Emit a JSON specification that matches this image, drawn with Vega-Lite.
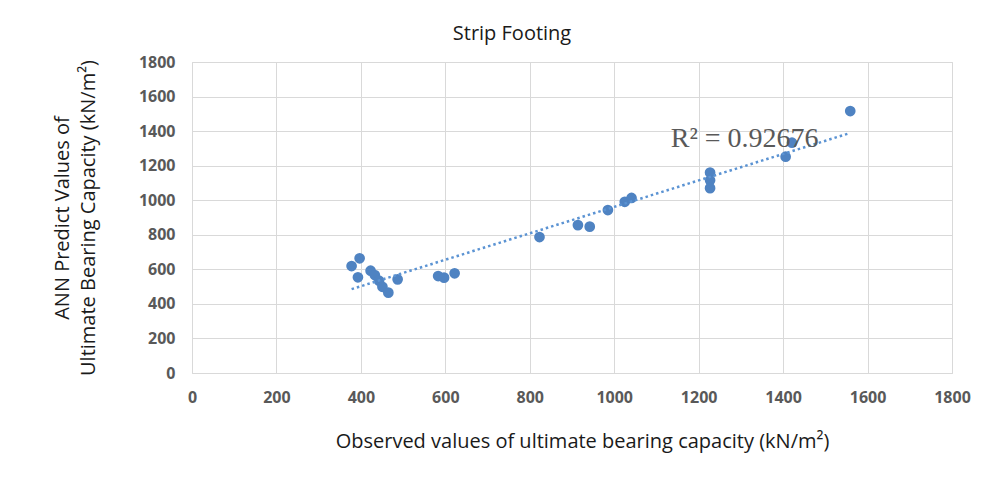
{
  "$schema": "https://vega.github.io/schema/vega-lite/v6.json",
  "autosize": {"type": "none"},
  "width": 760,
  "height": 311,
  "padding": {"left": 192, "top": 62, "right": 42, "bottom": 111},
  "background": "white",
  "title": {
    "text": "Strip Footing",
    "font": "Open Sans",
    "fontSize": 20,
    "fontWeight": "normal",
    "color": "#1a1a1a",
    "offset": 10,
    "dx": -60
  },
  "config": {
    "view": {"stroke": "#d9d9d9", "strokeWidth": 1},
    "axis": {
      "grid": true,
      "gridColor": "#d9d9d9",
      "gridWidth": 1,
      "ticks": false,
      "domain": false,
      "labelFont": "Open Sans",
      "labelFontSize": 16,
      "labelFontWeight": "bold",
      "labelColor": "#595959",
      "labelOverlap": false,
      "format": "d",
      "titleFont": "Open Sans",
      "titleFontSize": 20,
      "titleFontWeight": "normal",
      "titleColor": "#1a1a1a"
    }
  },
  "datasets": {
    "points": [
      {"observed": 378, "predicted": 619},
      {"observed": 397, "predicted": 664},
      {"observed": 393, "predicted": 554},
      {"observed": 423, "predicted": 592},
      {"observed": 433, "predicted": 567},
      {"observed": 443, "predicted": 534},
      {"observed": 451, "predicted": 499},
      {"observed": 465, "predicted": 465},
      {"observed": 487, "predicted": 542},
      {"observed": 583, "predicted": 561},
      {"observed": 597, "predicted": 552},
      {"observed": 622, "predicted": 577},
      {"observed": 823, "predicted": 787},
      {"observed": 914, "predicted": 856},
      {"observed": 942, "predicted": 847},
      {"observed": 985, "predicted": 943},
      {"observed": 1025, "predicted": 991},
      {"observed": 1041, "predicted": 1013},
      {"observed": 1227, "predicted": 1160},
      {"observed": 1227, "predicted": 1115},
      {"observed": 1227, "predicted": 1070},
      {"observed": 1406, "predicted": 1252},
      {"observed": 1421, "predicted": 1333},
      {"observed": 1559, "predicted": 1516}
    ],
    "label": [
      {"observed": 1309, "predicted": 1308, "text": "R² = 0.92676"}
    ]
  },
  "layer": [
    {
      "data": {"name": "points"},
      "mark": {"type": "circle", "size": 115, "opacity": 1, "color": "#4f83c2"},
      "encoding": {
        "x": {
          "field": "observed",
          "type": "quantitative",
          "scale": {"domain": [0, 1800], "nice": false},
          "axis": {"values": [0,200,400,600,800,1000,1200,1400,1600,1800], "tickCount": 20, "labelOverlap": false, "labelFlush": false, "labelPadding": 16, "title": "Observed values of ultimate bearing capacity (kN/m²)", "titlePadding": 26, "titleX": 390}
        },
        "y": {
          "field": "predicted",
          "type": "quantitative",
          "scale": {"domain": [0, 1800], "nice": false},
          "axis": {"values": [0,200,400,600,800,1000,1200,1400,1600,1800], "tickCount": 20, "labelOverlap": false, "labelFlush": false, "labelPadding": 17, "title": ["ANN Predict Values of", "Ultimate Bearing Capacity (kN/m²)"], "titlePadding": 40, "titleLineHeight": 26}
        }
      }
    },
    {
      "data": {"name": "points"},
      "transform": [{"regression": "predicted", "on": "observed"}],
      "mark": {"type": "line", "color": "#5b93d3", "strokeWidth": 2.5, "strokeDash": [2.5, 3]},
      "encoding": {
        "x": {"field": "observed", "type": "quantitative"},
        "y": {"field": "predicted", "type": "quantitative"}
      }
    },
    {
      "data": {"name": "label"},
      "mark": {"type": "text", "font": "Liberation Serif", "fontSize": 28, "color": "#595959", "align": "center", "baseline": "alphabetic"},
      "encoding": {
        "x": {"field": "observed", "type": "quantitative"},
        "y": {"field": "predicted", "type": "quantitative"},
        "text": {"field": "text"}
      }
    }
  ]
}
